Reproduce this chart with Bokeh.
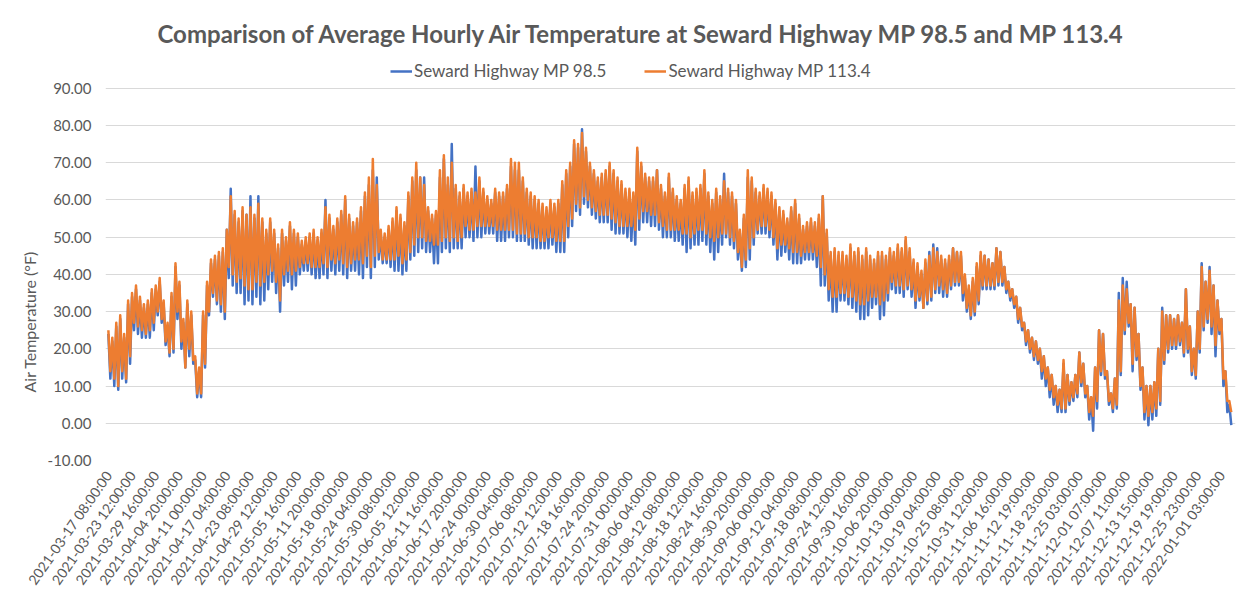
from bokeh.plotting import figure
from bokeh.models import (FixedTicker, PrintfTickFormatter, Legend, LegendItem,
                          Range1d, Title)
from bokeh.embed import file_html
from bokeh.resources import INLINE

# ---------------- data ----------------
x_labels = [
    "2021-03-17 08:00:00", "2021-03-23 12:00:00", "2021-03-29 16:00:00", "2021-04-04 20:00:00",
    "2021-04-11 00:00:00", "2021-04-17 04:00:00", "2021-04-23 08:00:00", "2021-04-29 12:00:00",
    "2021-05-05 16:00:00", "2021-05-11 20:00:00", "2021-05-18 00:00:00", "2021-05-24 04:00:00",
    "2021-05-30 08:00:00", "2021-06-05 12:00:00", "2021-06-11 16:00:00", "2021-06-17 20:00:00",
    "2021-06-24 00:00:00", "2021-06-30 04:00:00", "2021-07-06 08:00:00", "2021-07-12 12:00:00",
    "2021-07-18 16:00:00", "2021-07-24 20:00:00", "2021-07-31 00:00:00", "2021-08-06 04:00:00",
    "2021-08-12 08:00:00", "2021-08-18 12:00:00", "2021-08-24 16:00:00", "2021-08-30 20:00:00",
    "2021-09-06 00:00:00", "2021-09-12 04:00:00", "2021-09-18 08:00:00", "2021-09-24 12:00:00",
    "2021-09-30 16:00:00", "2021-10-06 20:00:00", "2021-10-13 00:00:00", "2021-10-19 04:00:00",
    "2021-10-25 08:00:00", "2021-10-31 12:00:00", "2021-11-06 16:00:00", "2021-11-12 19:00:00",
    "2021-11-18 23:00:00", "2021-11-25 03:00:00", "2021-12-01 07:00:00", "2021-12-07 11:00:00",
    "2021-12-13 15:00:00", "2021-12-19 19:00:00", "2021-12-25 23:00:00", "2022-01-01 03:00:00",
]
ROWS_PER_LABEL = 148          # hourly rows between two category labels
SAMPLES_PER_LABEL = 6         # daily high/low pairs read per label interval

# Seward Highway MP 98.5 (blue): daily highs and lows
mp985_high = [
    24, 22, 26, 28, 23, 32,  34, 36, 33, 31, 32, 35,  36, 38, 32, 26, 34, 42,
    37, 27, 32, 29, 17, 14,  29, 37, 43, 44, 45, 46,  52, 63, 56, 54, 57, 56,
    61, 55, 61, 54, 51, 54,  51, 47, 51, 49, 53, 51,  50, 48, 49, 50, 51, 49,
    51, 60, 55, 52, 54, 56,  60, 55, 53, 54, 57, 61,  64, 68, 66, 51, 50, 52,
    54, 57, 55, 53, 61, 65,  68, 66, 66, 57, 55, 56,  66, 71, 64, 75, 63, 61,
    63, 61, 62, 69, 65, 62,  60, 59, 62, 61, 61, 63,  69, 68, 68, 65, 62, 61,
    60, 59, 58, 57, 59, 58,  59, 64, 67, 69, 75, 74,  79, 73, 69, 67, 65, 66,
    67, 69, 67, 65, 64, 62,  62, 61, 73, 69, 66, 65,  65, 68, 63, 61, 66, 62,
    60, 59, 63, 65, 61, 62,  63, 67, 61, 59, 62, 60,  67, 62, 61, 59, 51, 55,
    66, 65, 62, 61, 63, 62,  61, 59, 57, 56, 54, 57,  59, 55, 52, 53, 54, 53,
    55, 61, 51, 45, 46, 45,  45, 44, 47, 45, 46, 44,  46, 44, 43, 45, 45, 44,
    46, 45, 47, 46, 49, 46,  43, 42, 40, 43, 46, 48,  47, 44, 43, 44, 47, 46,
    45, 39, 36, 38, 42, 45,  45, 44, 43, 47, 46, 42,  38, 36, 34, 31, 27, 25,
    23, 22, 20, 18, 15, 13,  10, 9, 16, 13, 11, 13,  19, 16, 10, 7, 15, 25,
    24, 14, 8, 12, 35, 39,  38, 32, 31, 24, 15, 10,  10, 11, 20, 31, 29, 29,
    28, 29, 27, 36, 26, 20,  30, 43, 38, 42, 37, 33,  28, 14, 5,
]
mp985_low = [
    12, 10, 9, 12, 11, 16,  25, 24, 23, 23, 23, 25,  29, 27, 21, 18, 19, 28,
    20, 15, 18, 16, 7, 7,  15, 29, 34, 32, 30, 28,  39, 37, 35, 35, 32, 33,
    32, 34, 32, 33, 36, 38,  35, 30, 37, 38, 36, 37,  40, 41, 41, 40, 39, 39,
    40, 39, 41, 40, 41, 40,  39, 41, 41, 40, 39, 42,  39, 42, 44, 43, 43, 42,
    41, 41, 40, 41, 44, 45,  46, 47, 46, 46, 43, 43,  46, 47, 46, 47, 47, 47,
    50, 50, 49, 50, 50, 51,  51, 51, 49, 49, 49, 50,  50, 49, 49, 49, 48, 47,
    47, 47, 47, 47, 48, 46,  46, 46, 50, 53, 57, 56,  59, 58, 56, 55, 54, 54,
    54, 52, 51, 51, 51, 50,  49, 48, 52, 54, 54, 53,  53, 52, 50, 50, 50, 49,
    49, 48, 46, 47, 48, 48,  49, 48, 46, 44, 46, 48,  50, 48, 47, 44, 41, 42,
    44, 48, 51, 51, 51, 50,  48, 44, 45, 46, 44, 43,  43, 43, 44, 44, 44, 42,
    37, 37, 33, 30, 30, 33,  33, 32, 31, 30, 28, 28,  29, 31, 32, 28, 29, 33,
    36, 35, 35, 34, 36, 34,  31, 33, 31, 32, 33, 35,  35, 34, 34, 36, 37, 37,
    33, 30, 28, 29, 32, 36,  36, 36, 36, 37, 37, 35,  33, 31, 27, 25, 21, 19,
    17, 16, 12, 10, 7, 5,  3, 3, 3, 5, 6, 7,  10, 7, 1, -2, 4, 13,
    12, 5, 3, 4, 13, 24,  26, 14, 17, 9, 1, -0.5,  1, 2, 5, 16, 19, 20,
    20, 21, 18, 19, 13, 12,  19, 25, 27, 24, 18, 24,  10, 3, -0.5,
]
# Seward Highway MP 113.4 (orange)
mp1134_high = [
    25, 23, 27, 29, 24, 33,  35, 37, 34, 32, 33, 36,  37, 39, 33, 27, 35, 43,
    38, 28, 33, 30, 18, 15,  30, 38, 44, 45, 46, 47,  52, 61, 57, 55, 58, 56,
    58, 56, 59, 55, 52, 55,  52, 48, 52, 50, 54, 52,  51, 49, 50, 51, 52, 50,
    52, 58, 56, 53, 55, 57,  61, 56, 54, 55, 58, 62,  66, 71, 64, 52, 51, 53,
    55, 58, 56, 54, 62, 66,  70, 66, 64, 58, 56, 57,  68, 72, 66, 70, 64, 62,
    64, 62, 63, 62, 66, 63,  61, 60, 63, 62, 62, 64,  71, 70, 70, 66, 63, 62,
    61, 60, 59, 58, 60, 59,  60, 65, 68, 70, 76, 75,  78, 74, 70, 68, 66, 67,
    68, 70, 68, 66, 65, 63,  63, 62, 74, 70, 67, 66,  66, 68, 64, 62, 67, 63,
    61, 60, 64, 66, 62, 63,  64, 68, 62, 60, 63, 61,  65, 63, 62, 60, 52, 56,
    68, 66, 63, 62, 64, 63,  62, 60, 58, 57, 55, 58,  60, 56, 53, 54, 55, 54,
    56, 61, 52, 46, 47, 46,  46, 45, 48, 46, 47, 45,  47, 45, 44, 46, 46, 45,
    47, 46, 48, 47, 50, 47,  44, 43, 41, 44, 45, 47,  46, 45, 44, 45, 47, 46,
    46, 40, 37, 39, 43, 46,  45, 44, 43, 47, 46, 42,  38, 36, 34, 31, 27, 25,
    23, 22, 20, 18, 15, 13,  10, 9, 17, 13, 11, 13,  19, 16, 10, 7, 15, 25,
    24, 14, 8, 12, 33, 37,  36, 32, 31, 24, 15, 10,  10, 11, 20, 30, 29, 29,
    28, 29, 27, 36, 26, 20,  30, 42, 38, 41, 37, 33,  28, 14, 6,
]
mp1134_low = [
    14, 12, 10, 14, 12, 18,  27, 26, 25, 24, 25, 27,  30, 28, 22, 19, 20, 30,
    22, 15, 20, 17, 8, 8,  16, 30, 35, 33, 32, 30,  42, 40, 38, 39, 37, 36,
    36, 38, 37, 38, 40, 41,  38, 33, 40, 41, 40, 41,  42, 43, 43, 42, 42, 42,
    43, 42, 44, 43, 44, 43,  42, 43, 44, 44, 43, 45,  42, 45, 46, 44, 44, 44,
    44, 45, 43, 44, 46, 48,  50, 50, 49, 49, 48, 48,  49, 50, 49, 50, 49, 50,
    53, 52, 52, 53, 53, 53,  53, 53, 52, 52, 52, 52,  52, 51, 51, 51, 50, 50,
    50, 49, 49, 50, 50, 49,  49, 49, 53, 55, 59, 58,  61, 60, 58, 57, 56, 56,
    56, 55, 54, 53, 53, 53,  53, 52, 55, 57, 57, 56,  56, 54, 53, 52, 52, 52,
    52, 51, 51, 50, 51, 52,  52, 51, 50, 49, 50, 51,  51, 50, 49, 46, 42, 44,
    47, 50, 52, 53, 53, 52,  50, 47, 48, 48, 47, 46,  46, 45, 46, 46, 46, 45,
    42, 40, 36, 34, 34, 35,  35, 34, 34, 33, 32, 32,  33, 34, 34, 32, 33, 35,
    38, 37, 37, 36, 37, 36,  33, 34, 31, 33, 34, 36,  37, 36, 35, 37, 38, 38,
    35, 31, 29, 30, 33, 37,  37, 37, 37, 38, 38, 36,  34, 32, 28, 26, 22, 20,
    18, 17, 14, 12, 9, 7,  5, 4, 4, 6, 7, 8,  11, 8, 3, 2, 6, 14,
    13, 6, 4, 5, 14, 25,  27, 16, 18, 10, 3, 2,  3, 4, 6, 17, 20, 21,
    21, 22, 19, 20, 14, 13,  20, 26, 28, 26, 21, 25,  12, 6, 3,
]
series_names = ["Seward Highway MP 98.5", "Seward Highway MP 113.4"]
series_colors = ["#4472C4", "#ED7D31"]
y_ticks = [-10, 0, 10, 20, 30, 40, 50, 60, 70, 80, 90]
title_text = "Comparison of Average Hourly Air Temperature at Seward Highway MP 98.5 and MP 113.4"
y_axis_title = "Air Temperature (\u00b0F)"


def zigzag(high, low):
    step = ROWS_PER_LABEL / SAMPLES_PER_LABEL
    xs, ys = [], []
    for j, (h, l) in enumerate(zip(high, low)):
        xs += [j * step, j * step + step / 2]
        ys += [h, l]
    return xs, ys


TXT = "#595959"
FONT = "Lato"

p = figure(width=1249, height=600, output_backend="svg", toolbar_location=None,
           x_range=Range1d(-18, 7044), y_range=Range1d(-10, 99.6))
p.min_border_left = 105
p.min_border_right = 14
p.min_border_top = 52
p.min_border_bottom = 140
p.outline_line_color = None
p.background_fill_color = "white"
p.border_fill_color = "white"

renderers = []
for (hi, lo), color in zip([(mp985_high, mp985_low), (mp1134_high, mp1134_low)], series_colors):
    xs, ys = zigzag(hi, lo)
    r = p.line(xs, ys, line_color=color, line_width=2.5, line_join="round")
    renderers.append(r)

# axes
p.yaxis.ticker = FixedTicker(ticks=y_ticks)
p.yaxis.formatter = PrintfTickFormatter(format="%.2f")
p.yaxis.major_label_text_font = FONT
p.yaxis.major_label_text_font_size = "15px"
p.yaxis.major_label_text_color = TXT
p.yaxis.major_label_standoff = 8
p.yaxis.axis_line_color = None
p.yaxis.major_tick_line_color = None
p.yaxis.minor_tick_line_color = None

ylab = Title(text=y_axis_title, align="left", offset=68, text_font=FONT,
             text_font_size="16px", text_font_style="normal", text_color=TXT, standoff=12)
p.add_layout(ylab, "left")

xt = [i * ROWS_PER_LABEL for i in range(len(x_labels))]
p.xaxis.ticker = FixedTicker(ticks=xt)
p.xaxis.major_label_overrides = {t: lab for t, lab in zip(xt, x_labels)}
p.xaxis.major_label_orientation = 0.96
p.xaxis.major_label_text_font = FONT
p.xaxis.major_label_text_font_size = "14px"
p.xaxis.major_label_text_color = TXT
p.xaxis.major_label_standoff = 6
p.xaxis.axis_line_color = None
p.xaxis.major_tick_line_color = None
p.xaxis.minor_tick_line_color = None

p.xgrid.grid_line_color = None
p.ygrid.ticker = FixedTicker(ticks=y_ticks)
p.ygrid.grid_line_color = "#d9d9d9"
p.ygrid.grid_line_width = 1

# title
p.title.text = title_text
p.title.text_font = FONT
p.title.text_font_size = "24px"
p.title.text_font_style = "bold"
p.title.text_color = TXT
p.title.align = "left"
p.title.offset = 52

legend = Legend(items=[LegendItem(label=n, renderers=[r]) for n, r in zip(series_names, renderers)],
                orientation="horizontal", location=(285, 379))
legend.label_text_font = FONT
legend.label_text_font_size = "17px"
legend.label_text_color = TXT
legend.border_line_color = None
legend.background_fill_alpha = 0
legend.glyph_width = 22
legend.glyph_height = 20
legend.label_standoff = 2
legend.spacing = 38
legend.padding = 0
legend.margin = 0
p.add_layout(legend, "center")

open("out.html", "w").write(file_html(p, INLINE))
